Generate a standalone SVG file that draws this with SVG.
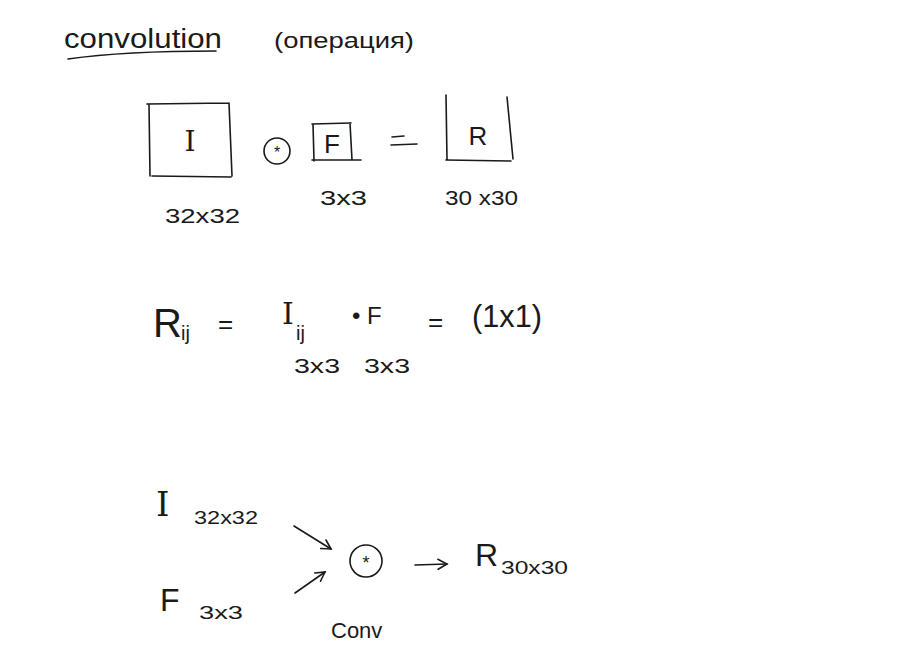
<svg xmlns="http://www.w3.org/2000/svg" width="917" height="671" viewBox="0 0 917 671">
<style>
text{font-family:"Liberation Sans","DejaVu Sans",sans-serif;fill:#1a1a1a}
.serif{font-family:"DejaVu Serif","Liberation Serif",serif;font-weight:300}
.m{font-size:20px}
.ln{fill:none;stroke:#1a1a1a;stroke-width:1.6;stroke-linecap:round;stroke-linejoin:round}
</style>
<defs>
<marker id="ah" viewBox="0 0 12 12" refX="10" refY="6" markerWidth="12" markerHeight="12" markerUnits="userSpaceOnUse" orient="auto">
<path d="M1,1 L10,6 L1,11" fill="none" stroke="#1a1a1a" stroke-width="1.6" stroke-linecap="round"/>
</marker>
</defs>
<rect width="917" height="671" fill="#ffffff"/>

<g id="title">
<text x="64" y="48" font-size="27" textLength="158" lengthAdjust="spacingAndGlyphs">convolution</text>
<path class="ln" d="M68,59 C110,53 170,51 216,51"/>
<text x="274" y="48" font-size="22" textLength="140" lengthAdjust="spacingAndGlyphs">(операция)</text>
</g>

<g id="box-I">
<path class="ln" d="M147,104 L229,103 M149,104 L150,176 M229,103 L232,176 M152,176 L231,177"/>
<text x="190" y="151" text-anchor="middle" font-size="28" class="serif">I</text>
<text x="165" y="223" class="m" textLength="75" lengthAdjust="spacingAndGlyphs">32x32</text>
</g>

<g id="op-conv">
<circle class="ln" cx="277" cy="151" r="13"/>
<text x="277" y="158" text-anchor="middle" font-size="16">*</text>
</g>

<g id="box-F">
<path class="ln" d="M312,124 L351,123 M313,124 L314,161 M350,123 L352,160 M312,160 L361,160"/>
<text x="332" y="153" text-anchor="middle" font-size="26">F</text>
<text x="320" y="205" class="m" textLength="47" lengthAdjust="spacingAndGlyphs">3x3</text>
</g>

<g id="eq1">
<path class="ln" d="M392,137 L404,136 M391,145 L417,144"/>
</g>

<g id="box-R">
<path class="ln" d="M446,95 L447,160 M446,160 L511,161 M507,97 L513,159"/>
<text x="478" y="145" text-anchor="middle" font-size="26">R</text>
<text x="445" y="205" class="m" textLength="73" lengthAdjust="spacingAndGlyphs">30 x30</text>
</g>

<g id="formula">
<text x="153" y="337" font-size="40">R</text>
<text x="181" y="340" font-size="20">ij</text>
<text x="218" y="333" font-size="26">=</text>
<text x="282" y="324" font-size="30" class="serif">I</text>
<text x="296" y="340" font-size="20">ij</text>
<text x="352" y="324" font-size="24">• F</text>
<text x="428" y="331" font-size="26">=</text>
<text x="472" y="327" font-size="32" textLength="70" lengthAdjust="spacingAndGlyphs">(1x1)</text>
<text x="294" y="373" class="m" textLength="46" lengthAdjust="spacingAndGlyphs">3x3</text>
<text x="364" y="373" class="m" textLength="46" lengthAdjust="spacingAndGlyphs">3x3</text>
</g>

<g id="input-I">
<text x="156" y="516" font-size="34" class="serif">I</text>
<text x="194" y="524" font-size="18" textLength="64" lengthAdjust="spacingAndGlyphs">32x32</text>
</g>

<g id="input-F">
<text x="160" y="611" font-size="32">F</text>
<text x="199" y="619" font-size="18" textLength="44" lengthAdjust="spacingAndGlyphs">3x3</text>
</g>

<g id="conv-node">
<circle class="ln" cx="366" cy="561" r="16"/>
<text x="366" y="569" text-anchor="middle" font-size="18">*</text>
<text x="331" y="638" font-size="22">Conv</text>
</g>

<g id="output-R">
<text x="475" y="566" font-size="32">R</text>
<text x="501" y="574" font-size="19" textLength="67" lengthAdjust="spacingAndGlyphs">30x30</text>
</g>

<g id="connectors">
<path class="ln" d="M294,526 L331,549" marker-end="url(#ah)"/>
<path class="ln" d="M295,593 L325,572" marker-end="url(#ah)"/>
<path class="ln" d="M415,565 L447,564" marker-end="url(#ah)"/>
</g>
</svg>
